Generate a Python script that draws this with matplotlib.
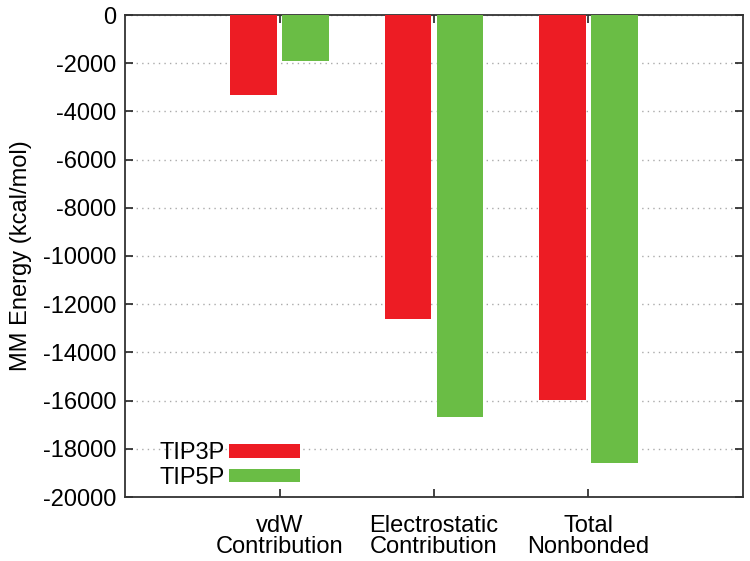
import matplotlib
matplotlib.use("Agg")
import matplotlib.pyplot as plt
import numpy as np

categories = ["vdW\nContribution", "Electrostatic\nContribution", "Total\nNonbonded"]
tip3p = [-3330, -12600, -15980]
tip5p = [-1920, -16690, -18600]
series_names = ["TIP3P", "TIP5P"]
colors = ["#ED1C24", "#6ABD45"]

plt.rcParams['font.family'] = ['Liberation Sans', 'DejaVu Sans']
plt.rcParams['font.size'] = 17
plt.rcParams['axes.unicode_minus'] = False

fig = plt.figure(figsize=(7.5, 5.61), dpi=100)
top, bottom, left, right = 15, 497, 125, 743
ax = fig.add_axes([left/750, 1-bottom/561, (right-left)/750, (bottom-top)/561])

x = np.arange(1, len(categories) + 1)
w = 0.3
off = 0.168
ax.bar(x - off, tip3p, width=w, color=colors[0], label=series_names[0], zorder=3)
ax.bar(x + off, tip5p, width=w, color=colors[1], label=series_names[1], zorder=3)

ax.set_xlim(0, 4)
ax.set_ylim(-20000, 0)
ax.set_yticks(np.arange(-20000, 1, 2000))
ax.set_xticks(x)
ax.set_xticklabels(categories, fontsize=17, linespacing=0.95)
ax.tick_params(axis='both', direction='in', top=True, right=True, length=6, width=1.2, color='#222222', labelsize=17)
ax.tick_params(axis='x', pad=13)
ax.tick_params(axis='y', pad=6)
ax.yaxis.grid(True, linestyle=(0, (1, 3)), color='#aaaaaa', linewidth=1, zorder=0)
for s in ax.spines.values():
    s.set_linewidth(1.3)
    s.set_color('#333333')
ax.set_ylabel("MM Energy (kcal/mol)", fontsize=17, labelpad=8)

leg = ax.legend(loc='lower left', bbox_to_anchor=(0.04, -0.003), frameon=False, markerfirst=False,
                handlelength=3.0, handleheight=0.5, handletextpad=0.2, labelspacing=0.12,
                fontsize=17, borderaxespad=0.0)

fig.savefig("out.png", dpi=100)
